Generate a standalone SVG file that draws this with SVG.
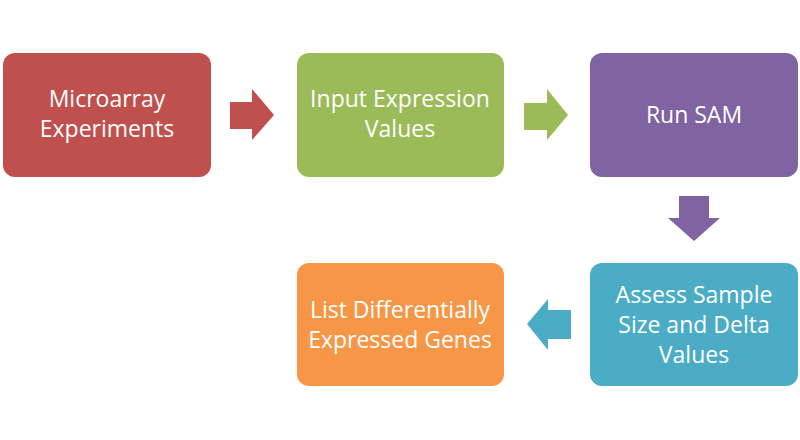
<svg xmlns="http://www.w3.org/2000/svg" width="800" height="440" viewBox="0 0 800 440">
<style>
.box{stroke:none}
.t{font-family:"Open Sans","Liberation Sans",sans-serif;font-size:23px;fill:#ffffff;text-anchor:middle}
</style>
<rect width="800" height="440" fill="#ffffff"/>
<g id="connectors">
<polygon fill="#C0504D" points="230,102 252,102 252,89 274,115 252,140 252,129 230,129"/>
<polygon fill="#9BBB59" points="524,103 547,103 547,89 568,115 547,140 547,130 524,130"/>
<polygon fill="#8064A2" points="679,196 709,196 709,218 720,218 694,241 668,218 679,218"/>
<polygon fill="#4BACC6" points="571,310 548,310 548,299 527,324 548,350 548,339 571,339"/>
</g>
<g id="n1">
<rect class="box" x="3" y="53" width="208" height="124" rx="12" fill="#C0504D"/>
<text class="t" x="107" y="107">Microarray</text>
<text class="t" x="107" y="137">Experiments</text>
</g>
<g id="n2">
<rect class="box" x="297" y="53" width="207" height="124" rx="12" fill="#9BBB59"/>
<text class="t" x="400" y="107">Input Expression</text>
<text class="t" x="400" y="137">Values</text>
</g>
<g id="n3">
<rect class="box" x="590" y="53" width="208" height="124" rx="12" fill="#8064A2"/>
<text class="t" x="694" y="123">Run SAM</text>
</g>
<g id="n4">
<rect class="box" x="590" y="263" width="208" height="123" rx="12" fill="#4BACC6"/>
<text class="t" x="694" y="303">Assess Sample</text>
<text class="t" x="694" y="333">Size and Delta</text>
<text class="t" x="694" y="363">Values</text>
</g>
<g id="n5">
<rect class="box" x="297" y="263" width="207" height="123" rx="12" fill="#F79646"/>
<text class="t" x="400" y="318">List Differentially</text>
<text class="t" x="400" y="348">Expressed Genes</text>
</g>
</svg>
